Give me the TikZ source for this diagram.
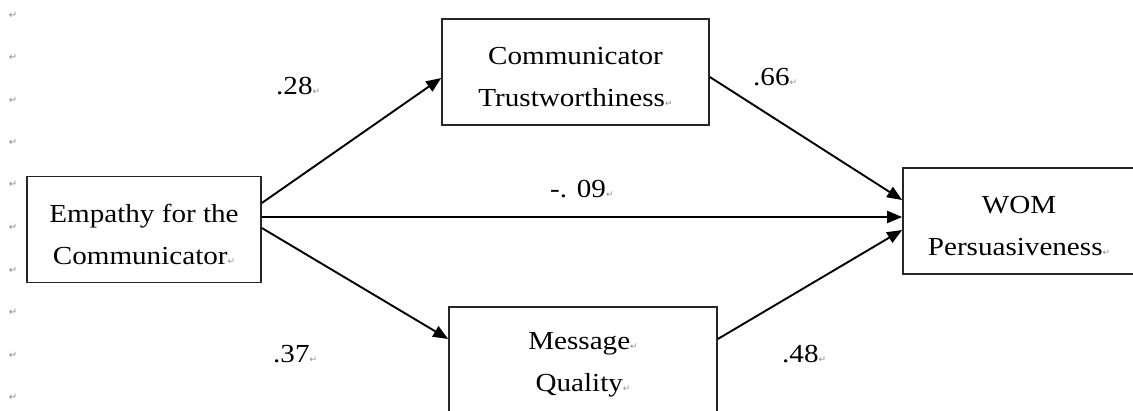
\documentclass[tikz,border=0pt]{standalone}
\usepackage{fontspec}
\setmainfont{Liberation Serif}[FakeStretch=1.12]
\newfontfamily\markfont{DejaVu Sans}
\usetikzlibrary{arrows.meta,calc}
\newcommand{\retmark}{{\markfont\fontsize{9}{9}\selectfont\color{black!45}\symbol{"21B5}}}
\newcommand{\topstrut}{\rule{0pt}{27.5pt}}
\begin{document}
\begin{tikzpicture}[x=1pt,y=-1pt,
  box/.style={draw=black!85,line width=1.7pt,minimum width=#1,minimum height=106pt,
    inner sep=0pt,align=center,font=\fontsize{26}{42}\selectfont},
  conn/.style={line width=1.9pt,-{Triangle[length=15pt,width=12pt]}},
  coef/.style={anchor=base west,inner sep=0pt,font=\fontsize{26}{30}\selectfont},
  margin/.style={inner sep=0pt,font=\markfont\fontsize{10}{10}\selectfont,text=black!45}]
\useasboundingbox (0,0) rectangle (1133,410);
% margin paragraph marks
\foreach \i/\y in {1/15,2/57,3/100,4/142,5/184,6/227,7/270,8/312,9/355,10/397}
  \node[margin] (m\i) at (13,\y) {\symbol{"21B5}};
% boxes
\node[box=234pt] (emp) at (144,229.5) {\topstrut Empathy for the\\Communicator\retmark};
\node[box=267pt] (trust) at (575.5,72) {\topstrut Communicator\\Trustworthiness\retmark};
\node[box=232pt] (wom) at (1019,221) {\topstrut WOM\\Persuasiveness\retmark};
\node[box=268pt] (mq) at (583,360) {\topstrut Message\retmark\\Quality\retmark};
% connectors
\draw[conn] ($(emp.east)+(0,-26.5)$) -- ($(trust.west)+(0,6)$);
\draw[conn] ($(trust.east)+(0,5)$) -- ($(wom.west)+(0,-21)$);
\draw[conn] ($(emp.east)+(0,-12.5)$) -- ($(wom.west)+(0,-4)$);
\draw[conn] ($(emp.east)+(0,-1.5)$) -- ($(mq.west)+(0,-21)$);
\draw[conn] ($(mq.east)+(0,-21)$) -- ($(wom.west)+(0,9)$);
% coefficients
\node[coef] (c1) at (276,94) {.28\retmark};
\node[coef] (c2) at (753,85) {.66\retmark};
\node[coef] (c3) at (550,197) {-. 09\retmark};
\node[coef] (c4) at (273,362) {.37\retmark};
\node[coef] (c5) at (782,362) {.48\retmark};
\end{tikzpicture}
\end{document}
